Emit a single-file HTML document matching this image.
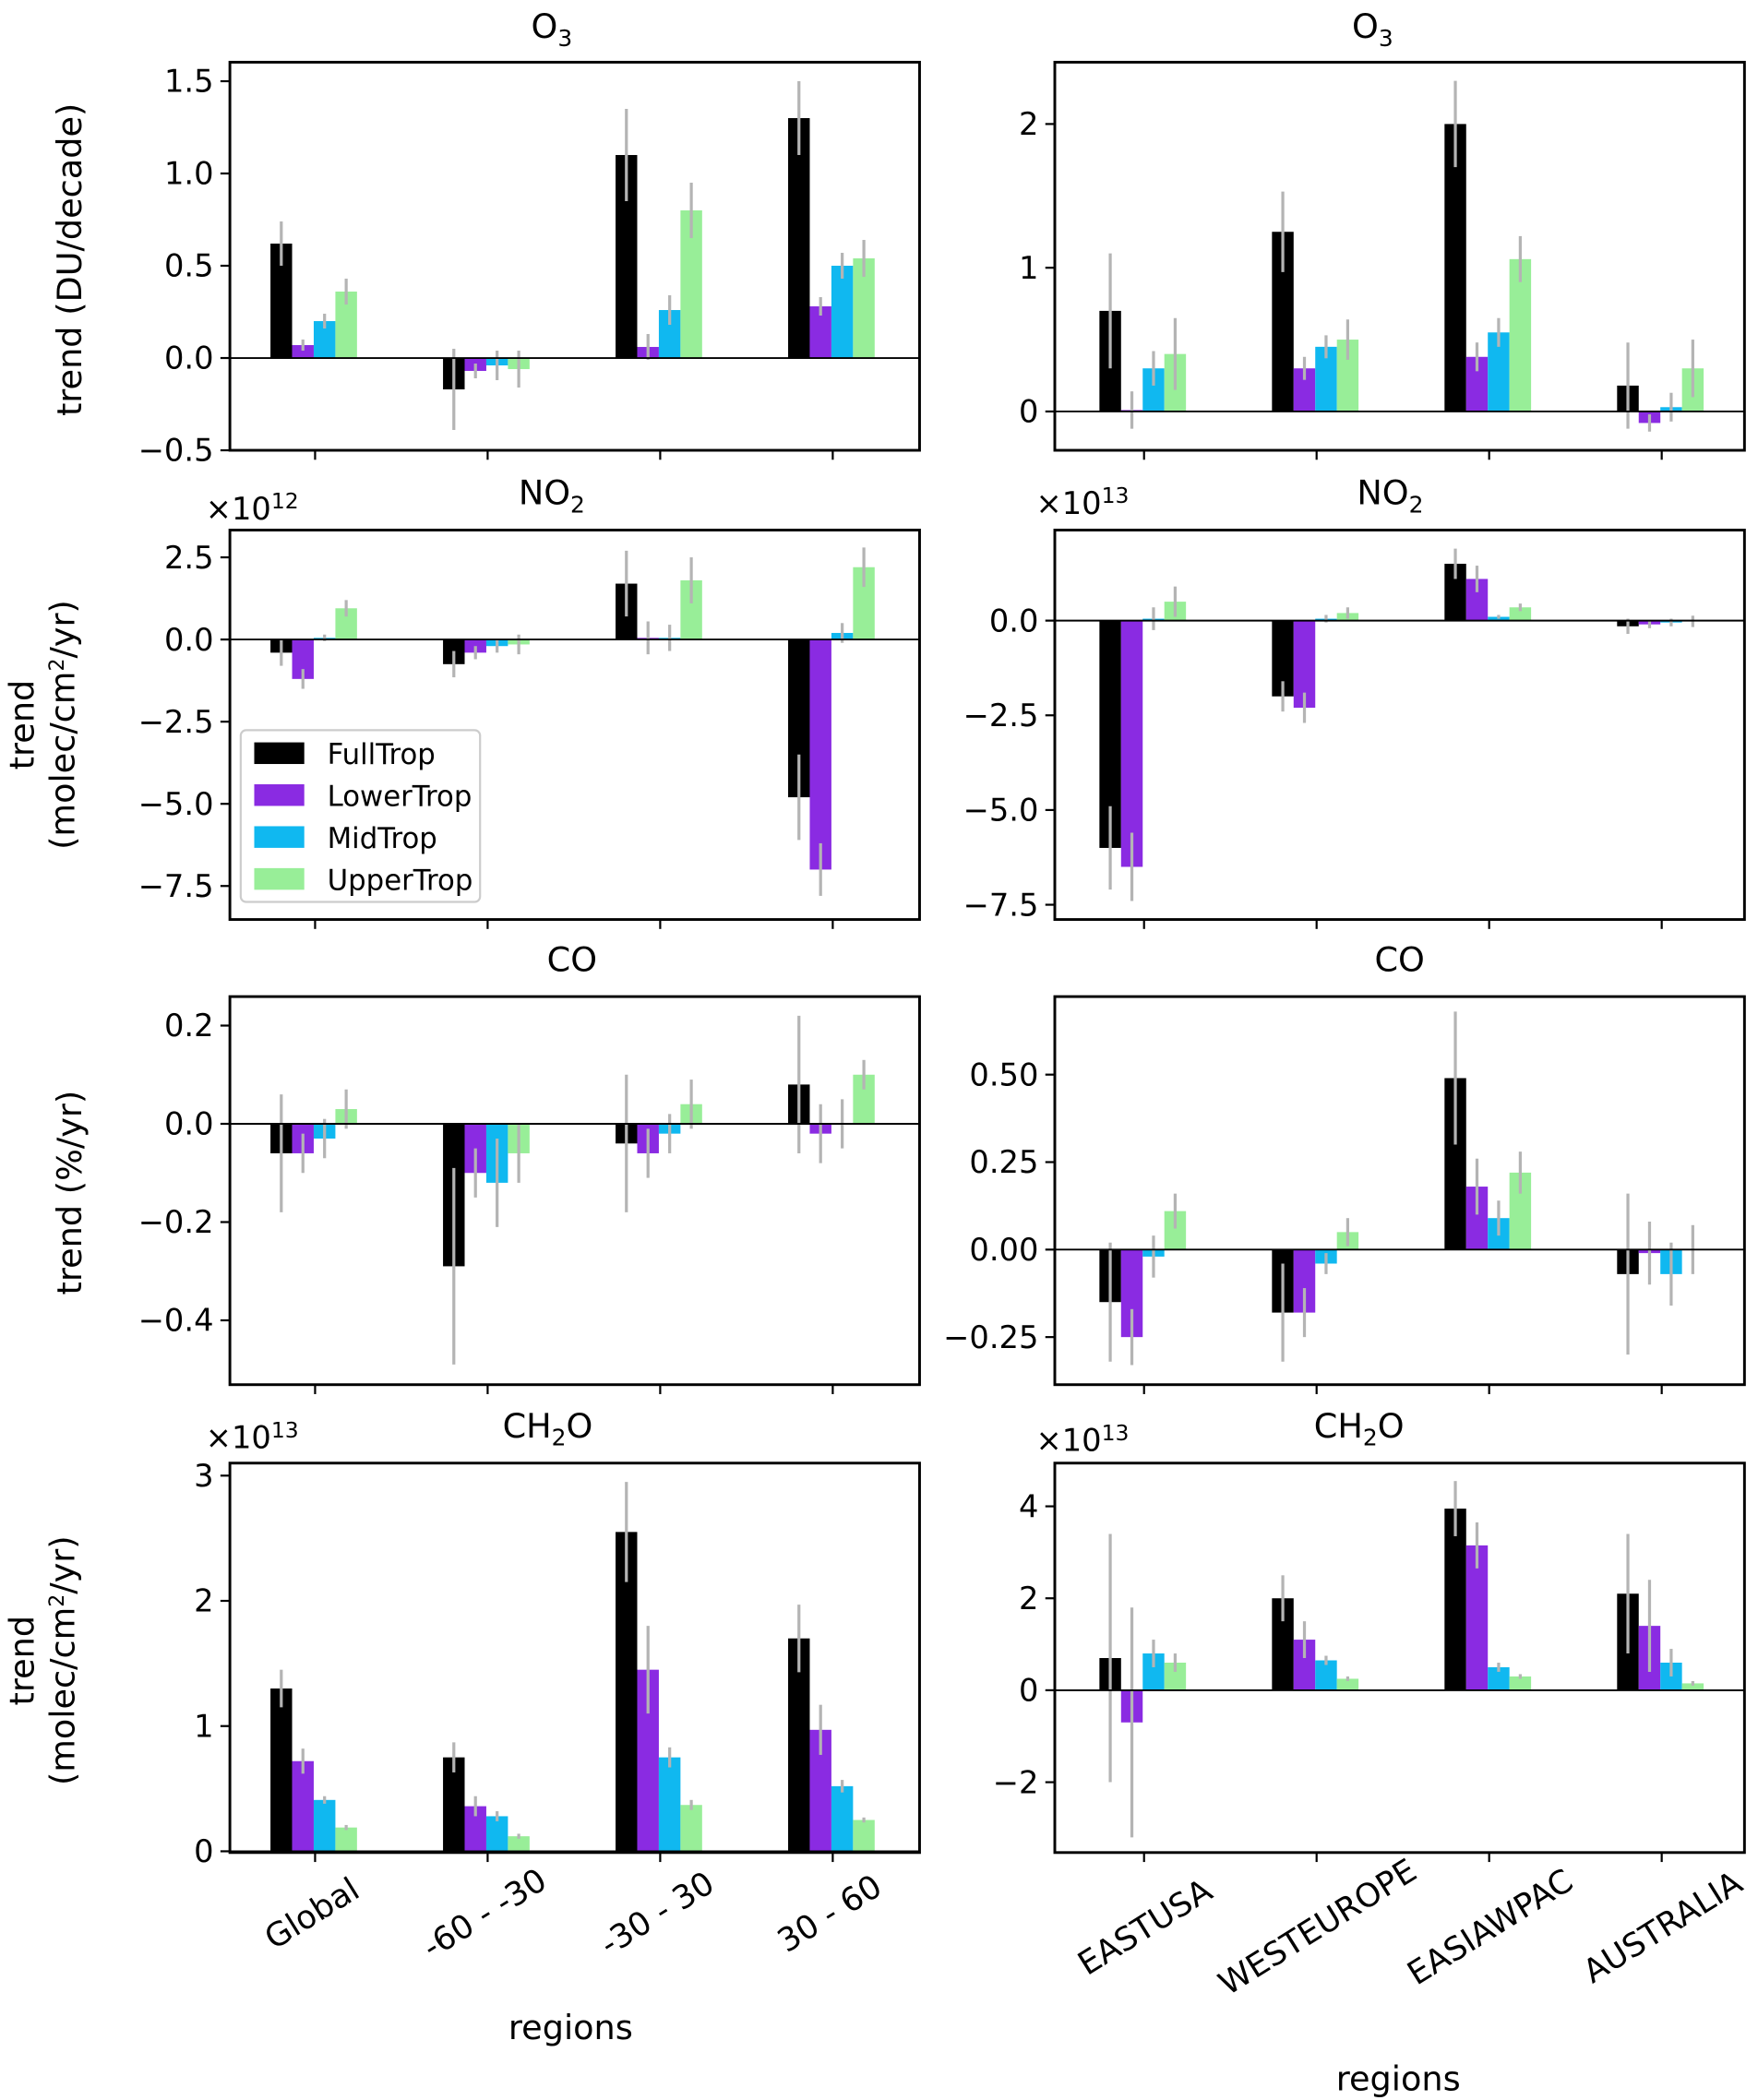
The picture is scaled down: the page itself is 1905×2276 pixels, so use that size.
<!DOCTYPE html>
<html><head><meta charset="utf-8"><style>
html,body{margin:0;padding:0;background:#fff}
svg{display:block}
text{font-family:"DejaVu Sans","Liberation Sans",sans-serif;fill:#000}
</style></head><body>
<svg id="fig" width="1905" height="2276" viewBox="0 0 1300 1553" preserveAspectRatio="none" xmlns="http://www.w3.org/2000/svg"></svg>
<script>
const seriesNames = ["FullTrop","LowerTrop","MidTrop","UpperTrop"];
const seriesColors = ["#000000","#8a2be2","#10b8f0","#98ee98"];
const leftCategories = ["Global","-60 - -30","-30 -  30","30 -  60"];
const rightCategories = ["EASTUSA","WESTEUROPE","EASIAWPAC","AUSTRALIA"];
const o3LeftValues = [[0.62,0.07,0.2,0.36],[-0.17,-0.07,-0.04,-0.06],[1.1,0.06,0.26,0.8],[1.3,0.28,0.5,0.54]];
const o3LeftErrors = [[0.12,0.03,0.04,0.07],[0.22,0.04,0.08,0.1],[0.25,0.07,0.08,0.15],[0.2,0.05,0.07,0.1]];
const o3RightValues = [[0.7,0.01,0.3,0.4],[1.25,0.3,0.45,0.5],[2.0,0.38,0.55,1.06],[0.18,-0.08,0.03,0.3]];
const o3RightErrors = [[0.4,0.13,0.12,0.25],[0.28,0.08,0.08,0.14],[0.3,0.1,0.1,0.16],[0.3,0.06,0.1,0.2]];
const no2LeftValues = [[-0.4,-1.2,0.05,0.95],[-0.75,-0.4,-0.2,-0.15],[1.7,0.05,0.05,1.8],[-4.8,-7.0,0.2,2.2]];
const no2LeftErrors = [[0.4,0.3,0.1,0.25],[0.4,0.2,0.2,0.3],[1.0,0.5,0.4,0.7],[1.3,0.8,0.3,0.6]];
const no2RightValues = [[-6.0,-6.5,0.05,0.5],[-2.0,-2.3,0.05,0.2],[1.5,1.1,0.1,0.35],[-0.15,-0.1,-0.05,-0.02]];
const no2RightErrors = [[1.1,0.9,0.3,0.4],[0.4,0.4,0.1,0.15],[0.4,0.35,0.05,0.1],[0.2,0.1,0.1,0.15]];
const coLeftValues = [[-0.06,-0.06,-0.03,0.03],[-0.29,-0.1,-0.12,-0.06],[-0.04,-0.06,-0.02,0.04],[0.08,-0.02,0.0,0.1]];
const coLeftErrors = [[0.12,0.04,0.04,0.04],[0.2,0.05,0.09,0.06],[0.14,0.05,0.04,0.05],[0.14,0.06,0.05,0.03]];
const coRightValues = [[-0.15,-0.25,-0.02,0.11],[-0.18,-0.18,-0.04,0.05],[0.49,0.18,0.09,0.22],[-0.07,-0.01,-0.07,0.0]];
const coRightErrors = [[0.17,0.08,0.06,0.05],[0.14,0.07,0.03,0.04],[0.19,0.08,0.05,0.06],[0.23,0.09,0.09,0.07]];
const ch2oLeftValues = [[1.3,0.72,0.41,0.19],[0.75,0.36,0.28,0.12],[2.55,1.45,0.75,0.37],[1.7,0.97,0.52,0.25]];
const ch2oLeftErrors = [[0.15,0.1,0.03,0.02],[0.12,0.08,0.04,0.02],[0.4,0.35,0.08,0.04],[0.27,0.2,0.05,0.02]];
const ch2oRightValues = [[0.7,-0.7,0.8,0.6],[2.0,1.1,0.65,0.25],[3.95,3.15,0.5,0.3],[2.1,1.4,0.6,0.15]];
const ch2oRightErrors = [[2.7,2.5,0.3,0.2],[0.5,0.4,0.1,0.05],[0.6,0.5,0.1,0.05],[1.3,1.0,0.3,0.05]];
const o3LeftTicks = [-0.5,0,0.5,1.0,1.5];
const o3LeftTickLabels = ["\u22120.5","0.0","0.5","1.0","1.5"];
const o3RightTicks = [0,1,2];
const o3RightTickLabels = ["0","1","2"];
const no2LeftTicks = [-7.5,-5,-2.5,0,2.5];
const no2LeftTickLabels = ["\u22127.5","\u22125.0","\u22122.5","0.0","2.5"];
const no2RightTicks = [-7.5,-5,-2.5,0];
const no2RightTickLabels = ["\u22127.5","\u22125.0","\u22122.5","0.0"];
const coLeftTicks = [-0.4,-0.2,0,0.2];
const coLeftTickLabels = ["\u22120.4","\u22120.2","0.0","0.2"];
const coRightTicks = [-0.25,0,0.25,0.5];
const coRightTickLabels = ["\u22120.25","0.00","0.25","0.50"];
const ch2oLeftTicks = [0,1,2,3];
const ch2oLeftTickLabels = ["0","1","2","3"];
const ch2oRightTicks = [-2,0,2,4];
const ch2oRightTickLabels = ["\u22122","0","2","4"];

const NS="http://www.w3.org/2000/svg";
const svg=document.getElementById('fig');
function el(tag,attrs,parent){const e=document.createElementNS(NS,tag);for(const k in attrs)e.setAttribute(k,attrs[k]);(parent||svg).appendChild(e);return e;}
function txt(s,attrs,parent){const t=el('text',attrs,parent);t.textContent=s;return t;}

const panels=[
 {name:'o3-left',x0:170,x1:680,y0:46,y1:333,ymin:-0.5,ymax:1.603,vals:o3LeftValues,errs:o3LeftErrors,ticks:o3LeftTicks,labels:o3LeftTickLabels,cats:leftCategories,tx:233},
 {name:'o3-right',x0:780,x1:1290,y0:46,y1:333,ymin:-0.27,ymax:2.43,vals:o3RightValues,errs:o3RightErrors,ticks:o3RightTicks,labels:o3RightTickLabels,cats:rightCategories,tx:846},
 {name:'no2-left',x0:170,x1:680,y0:392,y1:680,ymin:-8.52,ymax:3.33,vals:no2LeftValues,errs:no2LeftErrors,ticks:no2LeftTicks,labels:no2LeftTickLabels,cats:leftCategories,tx:233},
 {name:'no2-right',x0:780,x1:1290,y0:392,y1:680,ymin:-7.89,ymax:2.39,vals:no2RightValues,errs:no2RightErrors,ticks:no2RightTicks,labels:no2RightTickLabels,cats:rightCategories,tx:846},
 {name:'co-left',x0:170,x1:680,y0:737,y1:1024,ymin:-0.531,ymax:0.259,vals:coLeftValues,errs:coLeftErrors,ticks:coLeftTicks,labels:coLeftTickLabels,cats:leftCategories,tx:233},
 {name:'co-right',x0:780,x1:1290,y0:737,y1:1024,ymin:-0.386,ymax:0.723,vals:coRightValues,errs:coRightErrors,ticks:coRightTicks,labels:coRightTickLabels,cats:rightCategories,tx:846},
 {name:'ch2o-left',x0:170,x1:680,y0:1082,y1:1370,ymin:-0.01,ymax:3.1,vals:ch2oLeftValues,errs:ch2oLeftErrors,ticks:ch2oLeftTicks,labels:ch2oLeftTickLabels,cats:leftCategories,tx:233},
 {name:'ch2o-right',x0:780,x1:1290,y0:1082,y1:1370,ymin:-3.53,ymax:4.94,vals:ch2oRightValues,errs:ch2oRightErrors,ticks:ch2oRightTicks,labels:ch2oRightTickLabels,cats:rightCategories,tx:846}
];
panels.forEach((p,pi)=>{
  const g=el('g',{});
  
  
  const ys=v=>p.y1-(v-p.ymin)/(p.ymax-p.ymin)*(p.y1-p.y0);
  const xs=i=>p.tx+i*127.6;
  const bw=16;
  p.vals.forEach((grp,ci)=>{
    grp.forEach((v,si)=>{
      const bx=xs(ci)-33+si*bw;
      const r=el('rect',{x:bx,y:Math.min(ys(v),ys(0)),width:bw,height:Math.abs(ys(v)-ys(0)),fill:seriesColors[si]},g);
      
      
      const e=p.errs[ci][si];
      const l=el('line',{x1:bx+bw/2,x2:bx+bw/2,y1:ys(v-e),y2:ys(v+e),stroke:'#b4b4b4','stroke-width':2.2},g);
      
      
    });
  });
  el('line',{x1:p.x0,x2:p.x1,y1:ys(0),y2:ys(0),stroke:'#000','stroke-width':1.3},g);
  el('rect',{x:p.x0,y:p.y0,width:p.x1-p.x0,height:p.y1-p.y0,fill:'none',stroke:'#000','stroke-width':2},g);
  p.ticks.forEach((t,i)=>{
    const y=ys(t);
    el('line',{x1:p.x0-7,x2:p.x0,y1:y,y2:y,stroke:'#000','stroke-width':1.5},g);
    const tl=txt(p.labels[i],{x:p.x0-12,y:y+8,'text-anchor':'end','font-size':23},g);
    
    
  });
  p.cats.forEach((c,ci)=>{
    el('line',{x1:xs(ci),x2:xs(ci),y1:p.y1,y2:p.y1+7,stroke:'#000','stroke-width':1.5},g);
    if(pi>=6){
      const cx=xs(ci)+(pi===7?5:2), cy=p.y1+(pi===7?62:52);
      const tl=txt(c,{x:cx,y:cy,'text-anchor':'middle','font-size':24,transform:`rotate(-32 ${cx} ${cy})`},g);
      
      
    }
  });
});
function sub(base,subs,x,y,name){
  const t=el('text',{x:x,y:y,'text-anchor':'middle','font-size':25});
  
  
  const a=document.createElementNS(NS,'tspan');a.textContent=base;t.appendChild(a);
  const b=document.createElementNS(NS,'tspan');b.textContent=subs;b.setAttribute('font-size',17);b.setAttribute('dy',6);t.appendChild(b);
  return t;
}
sub('O','3',408,28,'title-o3-left');sub('O','3',1015,28,'title-o3-right');
sub('NO','2',408,373,'title-no2-left');sub('NO','2',1028,373,'title-no2-right');
let t=txt('CO',{x:423,y:718,'text-anchor':'middle','font-size':25});
t=txt('CO',{x:1035,y:718,'text-anchor':'middle','font-size':25});
sub('CH','2',405,1063,'title-ch2o-left');
const s2=svg.lastChild;const o=document.createElementNS(NS,'tspan');o.textContent='O';o.setAttribute('dy',-6);s2.appendChild(o);
sub('CH','2',1005,1063,'title-ch2o-right');
const s3=svg.lastChild;const o2=document.createElementNS(NS,'tspan');o2.textContent='O';o2.setAttribute('dy',-6);s3.appendChild(o2);
function mult(e,x,y,name){
  const t=el('text',{x:x,y:y,'font-size':23});
  const a=document.createElementNS(NS,'tspan');a.textContent='\u00d710';t.appendChild(a);
  const b=document.createElementNS(NS,'tspan');b.textContent=e;b.setAttribute('font-size',16);b.setAttribute('dy',-8);t.appendChild(b);
}
mult('12',152,384,'multiplier-no2-left');mult('13',766,380,'multiplier-no2-right');
mult('13',152,1071,'multiplier-ch2o-left');mult('13',766,1073,'multiplier-ch2o-right');
function ylab(lines,x,y,name){
  const t=el('text',{x:x,y:y,'text-anchor':'middle','font-size':25,transform:`rotate(-90 ${x} ${y})`});
  
  lines.forEach((l,i)=>{const s=document.createElementNS(NS,'tspan');s.setAttribute('x',x);s.setAttribute('dy',i?30:0);s.innerHTML=l;t.appendChild(s);});
}
ylab(['trend (DU/decade)'],60,192,'y-axis-title-o3');
ylab(['trend','(molec/cm<tspan font-size="15" dy="-8">2</tspan><tspan dy="8">/yr)</tspan>'],25,536,'y-axis-title-no2');
ylab(['trend (%/yr)'],60,882,'y-axis-title-co');
ylab(['trend','(molec/cm<tspan font-size="15" dy="-8">2</tspan><tspan dy="8">/yr)</tspan>'],25,1228,'y-axis-title-ch2o');
t=txt('regions',{x:422,y:1508,'text-anchor':'middle','font-size':25});
t=txt('regions',{x:1034,y:1546,'text-anchor':'middle','font-size':25});
const lg=el('g',{});


el('rect',{x:178,y:540,width:177,height:127,rx:4,fill:'#fff','fill-opacity':0.85,stroke:'#ccc','stroke-width':1.5},lg);
seriesNames.forEach((n,i)=>{
  const y=549+i*31;
  const r=el('rect',{x:188,y:y,width:37,height:16,fill:seriesColors[i]},lg);
  
  
  const tl=txt(n,{x:242,y:y+16,'font-size':21,'font-family':'Liberation Sans Narrow,Liberation Sans,sans-serif'},lg);
  
  
});
</script>
</body></html>
